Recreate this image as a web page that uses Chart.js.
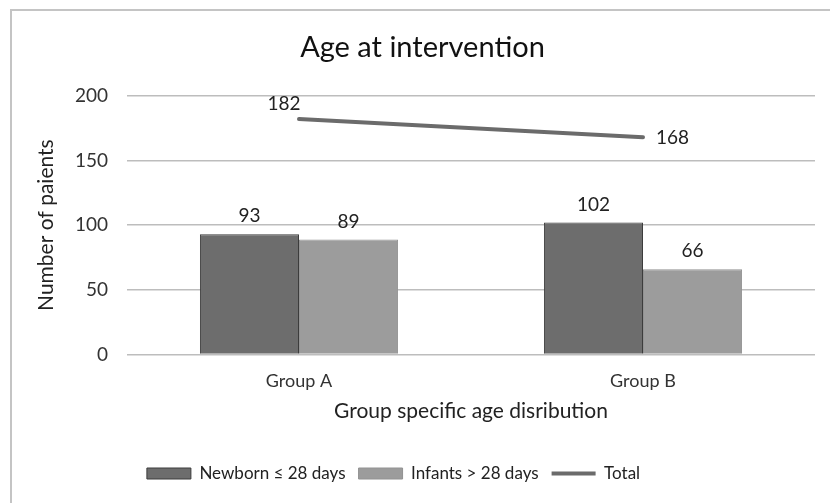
<!DOCTYPE html>
<html lang="en">
<head>
    <meta charset="UTF-8">
    <title>Age at intervention</title>
    <script src="https://cdn.jsdelivr.net/npm/chart.js"></script>
    <style>
        body {
            margin: 0;
            background: #ffffff;
            font-family: Lato, "Open Sans", sans-serif;
        }

        #wrap {
            position: relative;
            width: 830px;
            height: 503px;
            overflow: hidden;
        }

        /* grey chart frame, only the left and top edges show in the picture */
        #frame {
            position: absolute;
            left: 10px;
            top: 9px;
            width: 900px;
            height: 600px;
            border: 2px solid #c4c4c4;
        }

        canvas {
            position: absolute;
            left: 0;
            top: 0;
        }
    </style>
</head>
<body>
    <div id="wrap">
        <div id="frame"></div>
        <canvas id="chart" width="830" height="503"></canvas>
    </div>
    <script>
        const groups = ["Group A", "Group B"];
        const newborn = [93, 102];
        const infants = [89, 66];
        const total = [182, 168];

        const FONT = "Lato, 'Open Sans', sans-serif";

        // writes the value above each bar, and beside each point of the total line
        const valueLabels = {
            id: "valueLabels",
            afterDatasetsDraw(chart) {
                const ctx = chart.ctx;
                ctx.save();
                ctx.font = "19px " + FONT;
                ctx.fillStyle = "#222";
                ctx.textBaseline = "middle";
                chart.data.datasets.forEach((ds, i) => {
                    const meta = chart.getDatasetMeta(i);
                    meta.data.forEach((el, j) => {
                        const v = ds.data[j];
                        if (ds.type === "line") {
                            if (j === 0) {
                                ctx.textAlign = "center";
                                ctx.fillText(v, el.x - 15, el.y - 15);
                            } else {
                                ctx.textAlign = "left";
                                ctx.fillText(v, el.x + 13, el.y + 1);
                            }
                        } else {
                            ctx.textAlign = "center";
                            ctx.fillText(v, el.x, el.y - 18);
                        }
                    });
                });
                ctx.restore();
            }
        };

        // the original legend sits a little left of the chart's centre
        const legendShift = {
            id: "legendShift",
            afterLayout(chart) {
                chart.legend.left -= 29;
                chart.legend.right -= 29;
            }
        };

        new Chart(document.getElementById("chart").getContext("2d"), {
            data: {
                labels: groups,
                datasets: [
                    {
                        type: "bar",
                        label: "Newborn \u2264 28 days",
                        data: newborn,
                        backgroundColor: "#6d6d6d",
                        borderColor: "#3c3c3c",
                        borderWidth: 1,
                        order: 2
                    },
                    {
                        type: "bar",
                        label: "Infants > 28 days",
                        data: infants,
                        backgroundColor: "#9c9c9c",
                        borderColor: "#929292",
                        borderWidth: 1,
                        order: 2
                    },
                    {
                        type: "line",
                        label: "Total",
                        data: total,
                        borderColor: "#6b6b6b",
                        backgroundColor: "#6b6b6b",
                        borderWidth: 4,
                        pointRadius: 0,
                        borderCapStyle: "round",
                        order: 1
                    }
                ]
            },
            options: {
                responsive: false,
                animation: false,
                layout: {
                    padding: { top: 20, left: 30, right: 15, bottom: 11 }
                },
                datasets: {
                    bar: { categoryPercentage: 0.576, barPercentage: 1 }
                },
                plugins: {
                    title: {
                        display: true,
                        text: "Age at intervention",
                        color: "#111",
                        font: { family: FONT, size: 29, weight: "normal" },
                        padding: { top: 10, bottom: 31 }
                    },
                    legend: {
                        position: "bottom",
                        labels: {
                            color: "#222",
                            font: { family: FONT, size: 17 },
                            usePointStyle: true,
                            pointStyleWidth: 44,
                            boxHeight: 11,
                            padding: 13,
                            generateLabels(chart) {
                                const styles = ["rect", "rect", "line"];
                                return chart.data.datasets.map((ds, i) => ({
                                    text: ds.label,
                                    fillStyle: ds.backgroundColor,
                                    strokeStyle: ds.borderColor,
                                    lineWidth: i === 2 ? 4 : 1,
                                    pointStyle: styles[i],
                                    fontColor: "#222",
                                    datasetIndex: i
                                }));
                            }
                        }
                    },
                    tooltip: { enabled: false }
                },
                scales: {
                    x: {
                        afterFit(scale) { scale.height = 97.5; },
                        grid: { display: false },
                        border: { display: false },
                        ticks: {
                            color: "#333",
                            font: { family: FONT, size: 18 },
                            padding: 8
                        },
                        title: {
                            display: true,
                            text: "Group specific age disribution",
                            color: "#222",
                            font: { family: FONT, size: 21 },
                            padding: { top: 4, bottom: 28 }
                        }
                    },
                    y: {
                        min: 0,
                        max: 200,
                        afterFit(scale) { scale.width = 97; },
                        ticks: {
                            stepSize: 50,
                            color: "#333",
                            font: { family: FONT, size: 19 },
                            padding: 19
                        },
                        grid: {
                            color: "#bdbdbd",
                            lineWidth: 1.5,
                            drawTicks: false
                        },
                        border: { display: false },
                        title: {
                            display: true,
                            text: "Number of paients",
                            color: "#222",
                            font: { family: FONT, size: 21 },
                            padding: { top: 4, bottom: 0 }
                        }
                    }
                }
            },
            plugins: [valueLabels, legendShift]
        });
    </script>
</body>
</html>
